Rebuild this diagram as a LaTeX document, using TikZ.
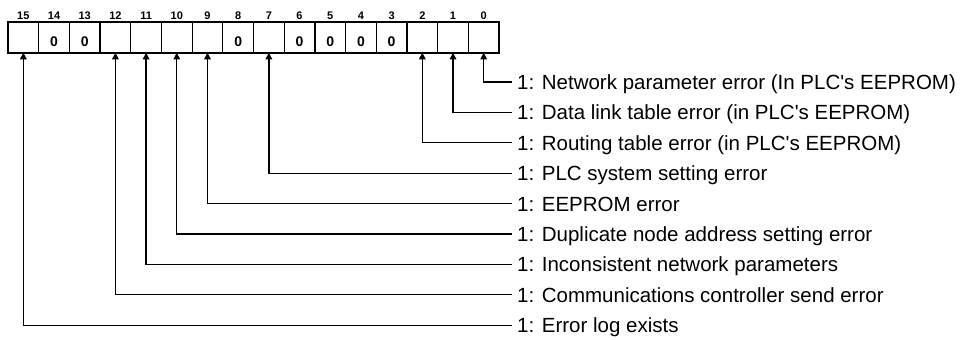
\documentclass[tikz,border=0pt]{standalone}
\usepackage{fontspec}
\setmainfont{Liberation Sans}[Ligatures=TeXOff]
\usetikzlibrary{arrows.meta}
\begin{document}
\begin{tikzpicture}[x=1pt,y=-1pt,
  cell/.style={draw,line width=1.2pt,minimum width=30.69pt,minimum height=30.5pt,inner sep=0pt,outer sep=0pt},
  bitnum/.style={font=\bfseries\fontsize{11}{11}\selectfont,anchor=base,inner sep=0pt},
  zero/.style={font=\bfseries\fontsize{14}{14}\selectfont,anchor=base,inner sep=0pt},
  lbl/.style={font=\fontsize{20.5}{20.5}\selectfont,anchor=base west,inner sep=0pt},
  conn/.style={line width=1.3pt,-{Triangle[length=6.5pt,width=6.5pt]}}]
\useasboundingbox (0,0) rectangle (972,340);
\foreach \b in {0,...,15}{
  \node[cell] (c\b) at ({8+(15-\b)*30.69+15.345},37.5) {};
  \node[bitnum] (n\b) at ([yshift=3pt]c\b.north) {\b};
}
\foreach \b in {14,13,8,6,5,4,3}{
  \node[zero] (z\b) at ([yshift=6.5pt]c\b.south) {0};
}
\draw[line width=2pt] (c15.north west) rectangle (c0.south east);
\foreach \b/\k/\t in {
  0/0/{1: Network parameter error (In PLC's EEPROM)},
  1/1/{1: Data link table error (in PLC's EEPROM)},
  2/2/{1: Routing table error (in PLC's EEPROM)},
  7/3/{1: PLC system setting error},
  9/4/{1: EEPROM error},
  10/5/{1: Duplicate node address setting error},
  11/6/{1: Inconsistent network parameters},
  12/7/{1: Communications controller send error},
  15/8/{1: Error log exists}}{
  \coordinate (r\b) at (512,{82+\k*30.4});
  \node[lbl] (l\b) at ([xshift=5pt,yshift=-7.4pt]r\b) {\t};
  \draw[conn] (r\b) -| (c\b.south);
}
\end{tikzpicture}
\end{document}
